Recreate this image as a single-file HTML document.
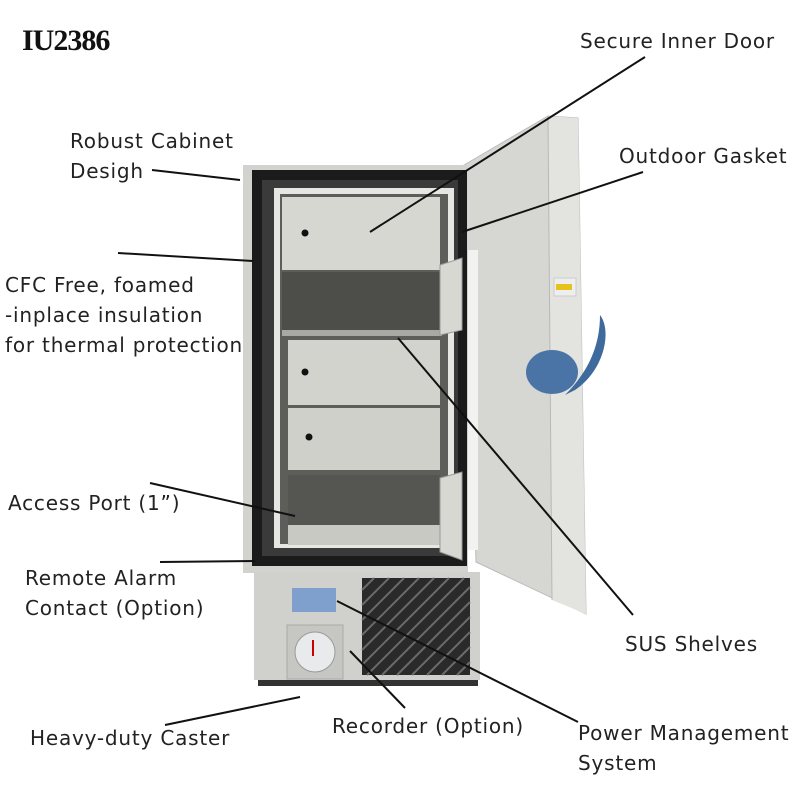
<!DOCTYPE html>
<html><head><meta charset="utf-8"><style>
html,body{margin:0;padding:0;background:#fff;}
svg{display:block}
text{font-family:"DejaVu Sans","Liberation Sans",sans-serif;font-size:20px;fill:#222;letter-spacing:0.8px}
</style></head><body>
<svg width="800" height="800" viewBox="0 0 800 800">
<rect width="800" height="800" fill="#fff"/>
<!-- outer door -->
<polygon points="464,165 548,116 578,118 586,614 476,562" fill="#d6d7d3" stroke="#bbb"/>
<polygon points="548,116 578,118 586,614 552,600" fill="#e3e4e0"/>
<line x1="548" y1="116" x2="552" y2="600" stroke="#b8b8b4"/>
<rect x="468" y="250" width="10" height="300" fill="#f2f2f0"/>
<!-- handle -->
<path d="M600,315 C612,330 605,370 575,390 L565,395 C585,375 600,350 600,315 Z" fill="#3f6a9c"/>
<ellipse cx="552" cy="372" rx="26" ry="22" fill="#4a74a6"/>
<rect x="554" y="278" width="22" height="18" fill="#eee" stroke="#ccc"/>
<rect x="556" y="284" width="16" height="6" fill="#e6c21c"/>
<!-- cabinet -->
<rect x="243" y="165" width="225" height="408" fill="#d2d3cf"/>
<rect x="252" y="170" width="215" height="396" fill="#1b1b1b"/>
<rect x="262" y="180" width="196" height="376" fill="#3a3a3a"/>
<rect x="274" y="188" width="180" height="360" fill="#e6e6e3"/>
<rect x="280" y="194" width="168" height="350" fill="#5d5d5a"/>
<rect x="282" y="197" width="158" height="73" fill="#d7d7d2"/>
<rect x="282" y="272" width="160" height="62" fill="#4d4d4a"/>
<rect x="282" y="330" width="160" height="6" fill="#a8a8a4"/>
<rect x="288" y="340" width="152" height="65" fill="#d3d3ce"/>
<rect x="288" y="408" width="152" height="62" fill="#d0d0cb"/>
<rect x="288" y="475" width="152" height="50" fill="#555552"/>
<rect x="288" y="525" width="152" height="20" fill="#c9c9c4"/>
<circle cx="305" cy="233" r="3.5" fill="#111"/>
<circle cx="305" cy="372" r="3.5" fill="#111"/>
<circle cx="309" cy="437" r="3.5" fill="#111"/>
<polygon points="440,265 462,258 462,330 440,335" fill="#d8d8d3" stroke="#999"/>
<polygon points="440,478 462,472 462,560 440,552" fill="#d8d8d3" stroke="#999"/>
<!-- base -->
<rect x="254" y="572" width="226" height="108" fill="#d0d1cc"/>
<rect x="292" y="588" width="44" height="24" fill="#7f9fcc"/>
<rect x="362" y="578" width="108" height="97" fill="#2a2a2a"/>
<g stroke="#6a6a6a" stroke-width="2">
<line x1="362" y1="590" x2="374" y2="578"/><line x1="362" y1="605" x2="389" y2="578"/><line x1="362" y1="620" x2="404" y2="578"/><line x1="362" y1="635" x2="419" y2="578"/><line x1="362" y1="650" x2="434" y2="578"/><line x1="362" y1="665" x2="449" y2="578"/><line x1="367" y1="675" x2="464" y2="578"/><line x1="382" y1="675" x2="470" y2="587"/><line x1="397" y1="675" x2="470" y2="602"/><line x1="412" y1="675" x2="470" y2="617"/><line x1="427" y1="675" x2="470" y2="632"/><line x1="442" y1="675" x2="470" y2="647"/><line x1="457" y1="675" x2="470" y2="662"/>
</g>
<rect x="287" y="625" width="56" height="54" fill="#c6c7c2" stroke="#aaa"/>
<circle cx="315" cy="652" r="20" fill="#e8eaec" stroke="#999"/>
<line x1="313" y1="640" x2="313" y2="656" stroke="#c00" stroke-width="2"/>
<rect x="258" y="680" width="220" height="6" fill="#333"/>
<!-- title -->
<text x="22" y="50" style="font-family:'Liberation Serif',serif;font-size:30px;font-weight:bold;fill:#111;letter-spacing:-1px">IU2386</text>
<!-- leader lines -->
<g stroke="#111" stroke-width="2">
<line x1="645" y1="57" x2="370" y2="232"/>
<line x1="152" y1="170" x2="240" y2="180"/>
<line x1="643" y1="172" x2="462" y2="232"/>
<line x1="118" y1="253" x2="253" y2="261"/>
<line x1="150" y1="483" x2="295" y2="516"/>
<line x1="160" y1="562" x2="255" y2="561"/>
<line x1="398" y1="338" x2="633" y2="615"/>
<line x1="165" y1="725" x2="300" y2="697"/>
<line x1="350" y1="651" x2="405" y2="708"/>
<line x1="337" y1="601" x2="578" y2="722"/>
</g>
<!-- labels -->
<text x="580" y="48">Secure Inner Door</text>
<text x="70" y="148">Robust Cabinet</text>
<text x="70" y="178">Desigh</text>
<text x="619" y="163">Outdoor Gasket</text>
<text x="5" y="292">CFC Free, foamed</text>
<text x="5" y="322">-inplace insulation</text>
<text x="5" y="352">for thermal protection</text>
<text x="8" y="510">Access Port (1”)</text>
<text x="25" y="585">Remote Alarm</text>
<text x="25" y="615">Contact (Option)</text>
<text x="625" y="651">SUS Shelves</text>
<text x="30" y="745">Heavy-duty Caster</text>
<text x="332" y="733">Recorder (Option)</text>
<text x="578" y="740">Power Management</text>
<text x="578" y="770">System</text>
</svg>
</body></html>
